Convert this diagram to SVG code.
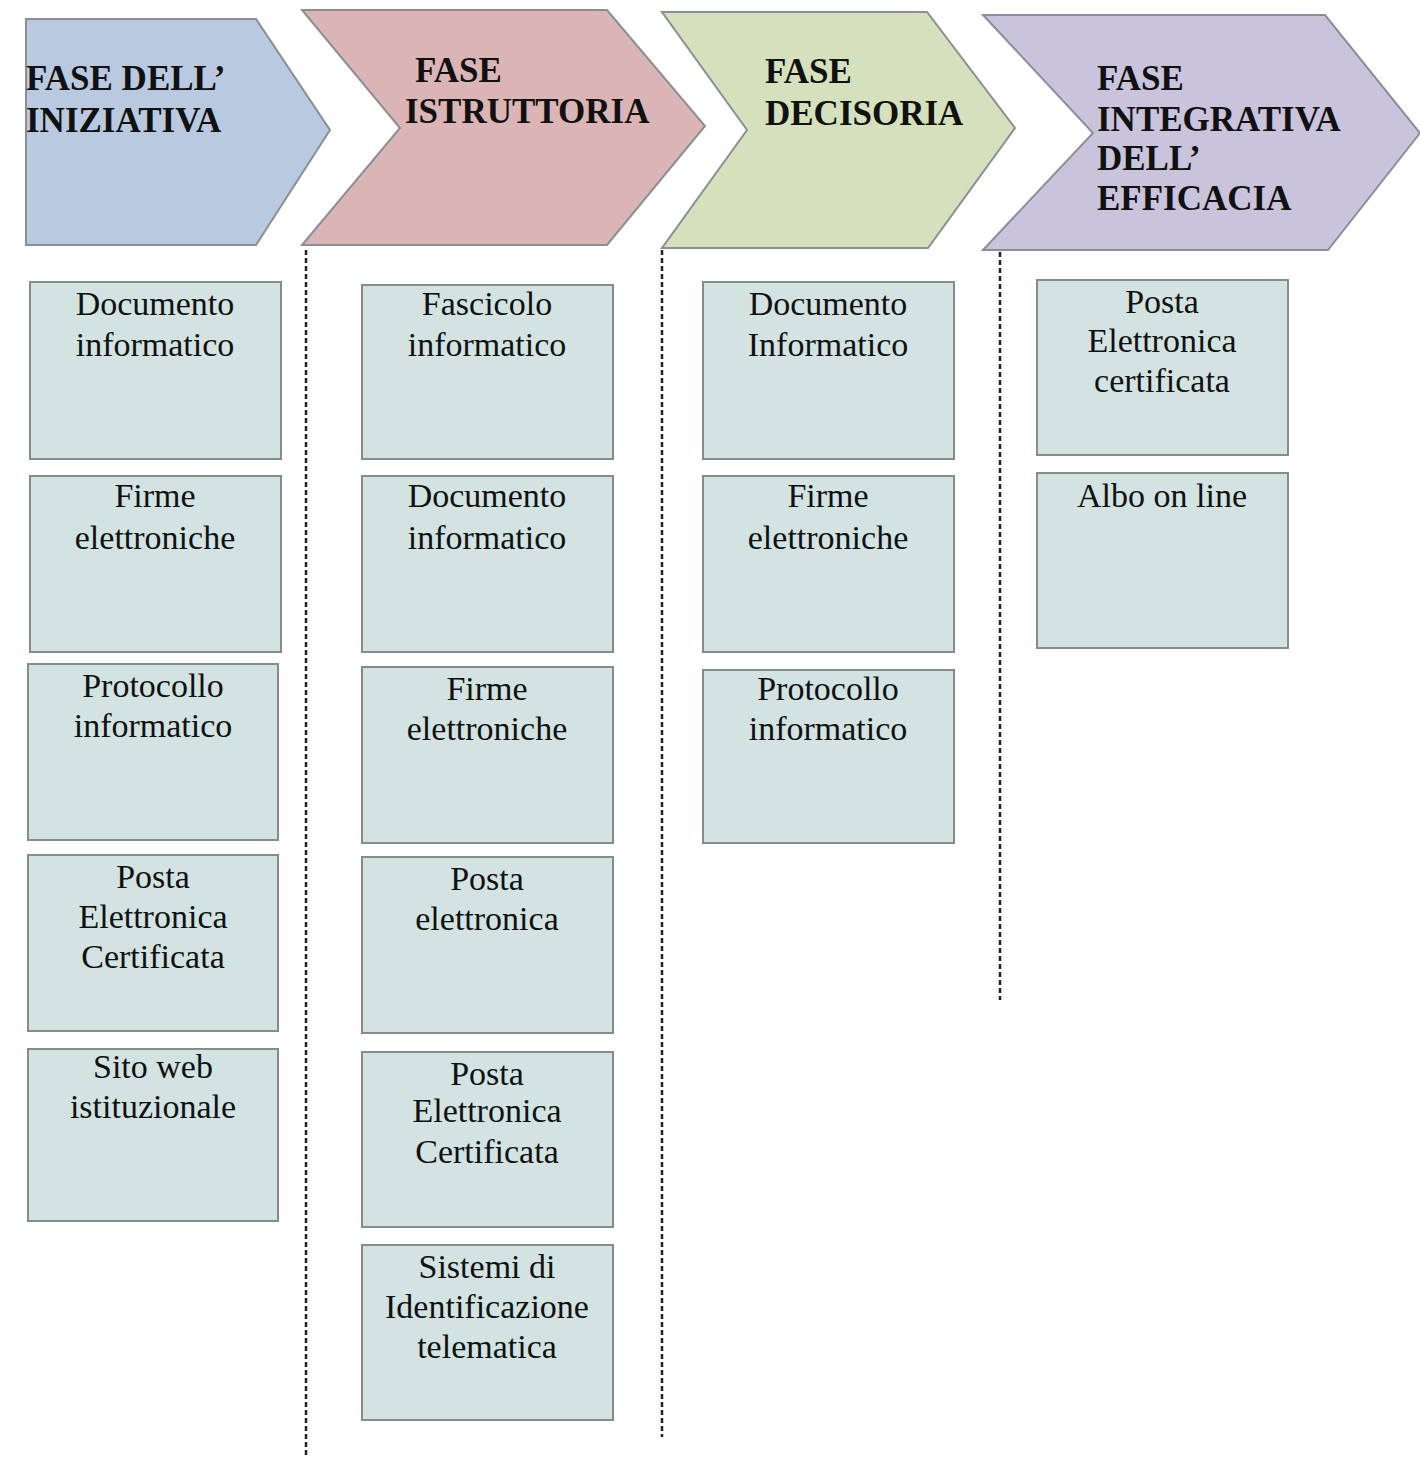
<svg xmlns="http://www.w3.org/2000/svg" width="1420" height="1458" viewBox="0 0 1420 1458">
<style>
.chev{stroke:#8a8f95;stroke-width:2}
.hd{font-family:"Liberation Serif","Times New Roman",serif;font-weight:bold;font-size:35px;fill:#111}
.box{fill:#d2e3e1;stroke:#848c8c;stroke-width:2}
.bt{font-family:"Liberation Serif","Times New Roman",serif;font-size:34px;fill:#111;text-anchor:middle}
.sep{stroke:#222;stroke-width:2.5;stroke-dasharray:5 3;fill:none}
</style>
<rect width="1420" height="1458" fill="#ffffff"/>
<g id="phase1">
<polygon class="chev" fill="#b9c9e0" points="26,19 256,19 330,130 256,245 26,245"/>
<text class="hd" x="26" y="90">FASE DELL’</text>
<text class="hd" x="26" y="132">INIZIATIVA</text>
</g>
<g id="phase2">
<polygon class="chev" fill="#dbb5b5" points="302,10 607,10 705,126 607,245 302,245 400,128"/>
<text class="hd" x="415" y="82">FASE</text>
<text class="hd" x="405" y="123">ISTRUTTORIA</text>
</g>
<g id="phase3">
<polygon class="chev" fill="#d5e0bc" points="662,12 927,12 1015,128 928,248 662,248 747,130"/>
<text class="hd" x="765" y="83">FASE</text>
<text class="hd" x="765" y="125">DECISORIA</text>
</g>
<g id="phase4">
<polygon class="chev" fill="#c9c3dc" points="983,15 1325,15 1420,133 1328,250 983,250 1093,133"/>
<text class="hd" x="1097" y="90">FASE</text>
<text class="hd" x="1097" y="131">INTEGRATIVA</text>
<text class="hd" x="1097" y="170">DELL’</text>
<text class="hd" x="1097" y="210">EFFICACIA</text>
</g>
<g id="connectors">
<line class="sep" x1="306" y1="250" x2="306" y2="1458"/>
<line class="sep" x1="662" y1="250" x2="662" y2="1437"/>
<line class="sep" x1="1000" y1="252" x2="1000" y2="1000"/>
</g>
<g id="c1b1"><rect class="box" x="30" y="282" width="251" height="177"/><text class="bt" x="155" y="315">Documento</text><text class="bt" x="155" y="356">informatico</text></g>
<g id="c1b2"><rect class="box" x="30" y="476" width="251" height="176"/><text class="bt" x="155" y="507">Firme</text><text class="bt" x="155" y="549">elettroniche</text></g>
<g id="c1b3"><rect class="box" x="28" y="664" width="250" height="176"/><text class="bt" x="153" y="697">Protocollo</text><text class="bt" x="153" y="737">informatico</text></g>
<g id="c1b4"><rect class="box" x="28" y="855" width="250" height="176"/><text class="bt" x="153" y="888">Posta</text><text class="bt" x="153" y="928">Elettronica</text><text class="bt" x="153" y="968">Certificata</text></g>
<g id="c1b5"><rect class="box" x="28" y="1049" width="250" height="172"/><text class="bt" x="153" y="1078">Sito web</text><text class="bt" x="153" y="1118">istituzionale</text></g>
<g id="c2b1"><rect class="box" x="362" y="285" width="251" height="174"/><text class="bt" x="487" y="315">Fascicolo</text><text class="bt" x="487" y="356">informatico</text></g>
<g id="c2b2"><rect class="box" x="362" y="476" width="251" height="176"/><text class="bt" x="487" y="507">Documento</text><text class="bt" x="487" y="549">informatico</text></g>
<g id="c2b3"><rect class="box" x="362" y="667" width="251" height="176"/><text class="bt" x="487" y="700">Firme</text><text class="bt" x="487" y="740">elettroniche</text></g>
<g id="c2b4"><rect class="box" x="362" y="857" width="251" height="176"/><text class="bt" x="487" y="890">Posta</text><text class="bt" x="487" y="930">elettronica</text></g>
<g id="c2b5"><rect class="box" x="362" y="1052" width="251" height="175"/><text class="bt" x="487" y="1085">Posta</text><text class="bt" x="487" y="1122">Elettronica</text><text class="bt" x="487" y="1163">Certificata</text></g>
<g id="c2b6"><rect class="box" x="362" y="1245" width="251" height="175"/><text class="bt" x="487" y="1278">Sistemi di</text><text class="bt" x="487" y="1318">Identificazione</text><text class="bt" x="487" y="1358">telematica</text></g>
<g id="c3b1"><rect class="box" x="703" y="282" width="251" height="177"/><text class="bt" x="828" y="315">Documento</text><text class="bt" x="828" y="356">Informatico</text></g>
<g id="c3b2"><rect class="box" x="703" y="476" width="251" height="176"/><text class="bt" x="828" y="507">Firme</text><text class="bt" x="828" y="549">elettroniche</text></g>
<g id="c3b3"><rect class="box" x="703" y="670" width="251" height="173"/><text class="bt" x="828" y="700">Protocollo</text><text class="bt" x="828" y="740">informatico</text></g>
<g id="c4b1"><rect class="box" x="1037" y="280" width="251" height="175"/><text class="bt" x="1162" y="313">Posta</text><text class="bt" x="1162" y="352">Elettronica</text><text class="bt" x="1162" y="392">certificata</text></g>
<g id="c4b2"><rect class="box" x="1037" y="473" width="251" height="175"/><text class="bt" x="1162" y="507">Albo on line</text></g>
</svg>
